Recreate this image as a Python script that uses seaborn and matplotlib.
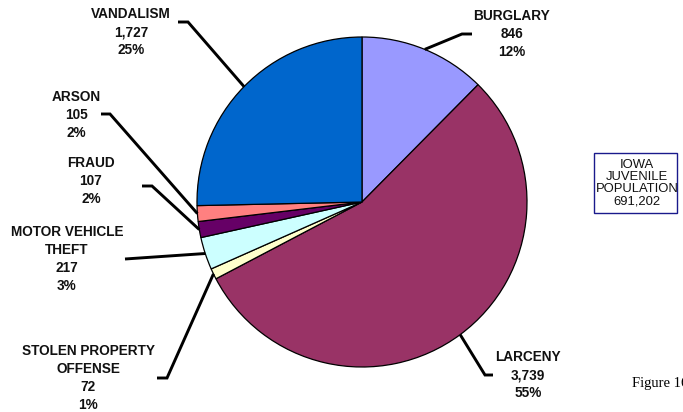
import numpy as np
import matplotlib
matplotlib.use("Agg")
import matplotlib.pyplot as plt
import seaborn as sns
from matplotlib.patches import Rectangle

# ---- data ----
categories = ["BURGLARY", "LARCENY", "STOLEN PROPERTY\nOFFENSE", "MOTOR VEHICLE\nTHEFT",
              "FRAUD", "ARSON", "VANDALISM"]
values = [846, 3739, 72, 217, 107, 105, 1727]
value_labels = ["846", "3,739", "72", "217", "107", "105", "1,727"]
pct_labels = ["12%", "55%", "1%", "3%", "2%", "2%", "25%"]
colors = ["#9999FF", "#993366", "#FFFFCC", "#CCFFFF", "#660066", "#FF8080", "#0066CC"]
box_lines = ["IOWA", "JUVENILE", "POPULATION", "691,202"]
figure_caption = "Figure 16"

# ---- layout (pixel space, y from top) ----
W, H = 683, 412
center_px = (362, 202)
radius_px = 165
# label block centers
label_pos = [(512, 34), (528, 375), (88, 378), (67, 259), (91, 181), (76, 115), (131, 32)]
# leader: (elbow, end) ; None elbow -> straight line to end
leader = [((462, 34), (472, 34)),
          ((485, 375), (493, 375)),
          ((167, 378), (157, 378)),
          (None, (125, 259)),
          ((152, 186), (142, 186)),
          ((110, 114), (101, 114)),
          ((188, 22), (178, 22))]

sns.set_theme(style="white")
plt.rcParams["font.family"] = ["Liberation Sans", "DejaVu Sans"]

fig = plt.figure(figsize=(W / 100, H / 100), dpi=100)
ax = fig.add_axes([0, 0, 1, 1])

def fy(y):
    return H - y

wedges, _ = ax.pie(values, colors=colors, startangle=90, counterclock=False,
                   center=(center_px[0], fy(center_px[1])), radius=radius_px,
                   wedgeprops=dict(edgecolor="black", linewidth=0.9))
ax.set_xlim(0, W)
ax.set_ylim(0, H)
ax.set_aspect("equal")
ax.axis("off")

cx, cy = center_px[0], fy(center_px[1])
for i, w in enumerate(wedges):
    mid = np.deg2rad((w.theta1 + w.theta2) / 2)
    ex, ey = cx + radius_px * np.cos(mid), cy + radius_px * np.sin(mid)
    elbow, end = leader[i]
    if elbow is None:
        xs, ys = [ex, end[0]], [ey, fy(end[1])]
    else:
        xs = [ex, elbow[0], end[0]]
        ys = [ey, fy(elbow[1]), fy(end[1])]
    ax.plot(xs, ys, color="black", linewidth=2.1, solid_capstyle="butt",
            solid_joinstyle="miter", zorder=3)
    lx, ly = label_pos[i]
    txt = f"{categories[i]}\n{value_labels[i]}\n{pct_labels[i]}"
    ax.text(lx, fy(ly), txt, ha="center", va="center", fontsize=9.8,
            fontweight="bold", linespacing=1.36, color="#111111")

# population box
ax.add_patch(Rectangle((594, fy(213)), 83, 60, facecolor="white",
                       edgecolor="#1a1a8c", linewidth=1.0, zorder=4))
ax.text(637, fy(183), "\n".join(box_lines), ha="center", va="center",
        fontsize=9.4, linespacing=1.02, color="#111111", zorder=5)

ax.text(632, fy(383), figure_caption, ha="left", va="center", fontsize=10.5,
        family=["Liberation Serif", "DejaVu Serif"], color="black")

fig.savefig("out.png", dpi=100)
